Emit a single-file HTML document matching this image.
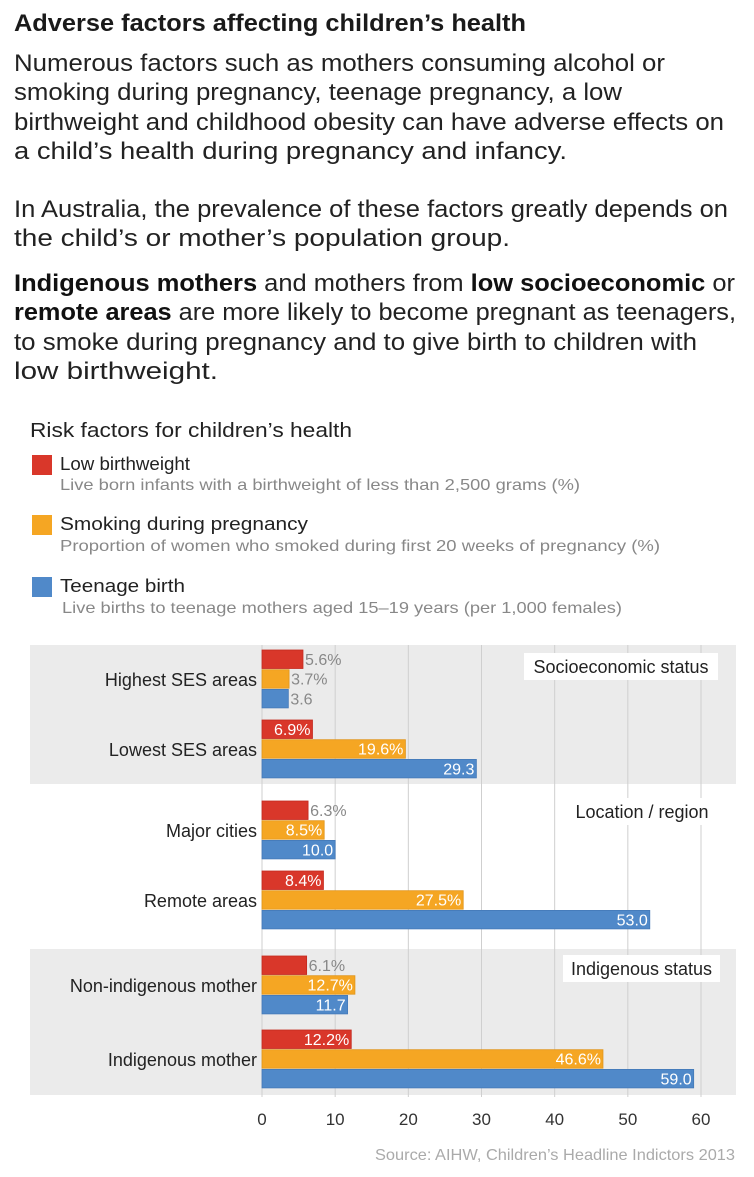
<!DOCTYPE html>
<html><head><meta charset="utf-8">
<style>
html,body{margin:0;padding:0;background:#fff;}
svg{display:block;font-family:"Liberation Sans",Arial,sans-serif;}
</style></head>
<body>
<svg id="chart" width="754" height="1177" viewBox="0 0 754 1177" xmlns="http://www.w3.org/2000/svg">
<g fill="#1a1a1a">
<text x="14" y="31" font-size="24" font-weight="bold" textLength="512" lengthAdjust="spacingAndGlyphs">Adverse factors affecting children’s health</text>
<g font-size="24" fill="#222">
<text x="14" y="71" textLength="651" lengthAdjust="spacingAndGlyphs">Numerous factors such as mothers consuming alcohol or</text>
<text x="14" y="100" textLength="608" lengthAdjust="spacingAndGlyphs">smoking during pregnancy, teenage pregnancy, a low</text>
<text x="14" y="130" textLength="710" lengthAdjust="spacingAndGlyphs">birthweight and childhood obesity can have adverse effects on</text>
<text x="14" y="159" textLength="553" lengthAdjust="spacingAndGlyphs">a child’s health during pregnancy and infancy.</text>
<text x="14" y="217" textLength="714" lengthAdjust="spacingAndGlyphs">In Australia, the prevalence of these factors greatly depends on</text>
<text x="14" y="246" textLength="496" lengthAdjust="spacingAndGlyphs">the child’s or mother’s population group.</text>
<text x="14" y="291" textLength="721" lengthAdjust="spacingAndGlyphs"><tspan font-weight="bold" fill="#111">Indigenous mothers</tspan> and mothers from <tspan font-weight="bold" fill="#111">low socioeconomic</tspan> or</text>
<text x="14" y="320" textLength="722" lengthAdjust="spacingAndGlyphs"><tspan font-weight="bold" fill="#111">remote areas</tspan> are more likely to become pregnant as teenagers,</text>
<text x="14" y="350" textLength="683" lengthAdjust="spacingAndGlyphs">to smoke during pregnancy and to give birth to children with</text>
<text x="14" y="379" textLength="204" lengthAdjust="spacingAndGlyphs">low birthweight.</text>
</g>
</g>
<g>
<text x="30" y="437" font-size="20" fill="#222" textLength="322" lengthAdjust="spacingAndGlyphs">Risk factors for children’s health</text>
<g>
<rect x="32" y="455" width="20" height="20" fill="#d9372a"/>
<text x="60" y="470" font-size="18" fill="#222" textLength="130" lengthAdjust="spacingAndGlyphs">Low birthweight</text>
<text x="60" y="490" font-size="16" fill="#888" textLength="520" lengthAdjust="spacingAndGlyphs">Live born infants with a birthweight of less than 2,500 grams (%)</text>
</g>
<g>
<rect x="32" y="515" width="20" height="20" fill="#f5a623"/>
<text x="60" y="530" font-size="18" fill="#222" textLength="248" lengthAdjust="spacingAndGlyphs">Smoking during pregnancy</text>
<text x="60" y="551" font-size="16" fill="#888" textLength="600" lengthAdjust="spacingAndGlyphs">Proportion of women who smoked during first 20 weeks of pregnancy (%)</text>
</g>
<g>
<rect x="32" y="577" width="20" height="20" fill="#5089c9"/>
<text x="60" y="592" font-size="18" fill="#222" textLength="125" lengthAdjust="spacingAndGlyphs">Teenage birth</text>
<text x="62" y="613" font-size="16" fill="#888" textLength="560" lengthAdjust="spacingAndGlyphs">Live births to teenage mothers aged 15–19 years (per 1,000 females)</text>
</g>
</g>
<g id="plot"></g>
<text x="735" y="1160" font-size="16" fill="#aaa" text-anchor="end" textLength="360" lengthAdjust="spacingAndGlyphs">Source: AIHW, Children’s Headline Indictors 2013</text>
</svg>
<script>
const categories = ["Highest SES areas","Lowest SES areas","Major cities","Remote areas","Non-indigenous mother","Indigenous mother"];
const lowBirthweight = [5.6, 6.9, 6.3, 8.4, 6.1, 12.2];
const smoking = [3.7, 19.6, 8.5, 27.5, 12.7, 46.6];
const teenageBirth = [3.6, 29.3, 10.0, 53.0, 11.7, 59.0];
const xTicks = [0, 10, 20, 30, 40, 50, 60];
const groupNames = ["Socioeconomic status", "Location / region", "Indigenous status"];

const NS = "http://www.w3.org/2000/svg";
const plot = document.getElementById("plot");
const x0 = 262, x1 = 701, xMax = 60;
function xs(v){ return x0 + (x1 - x0) * v / xMax; }
const groupTops = [650, 720, 801, 871, 956, 1030];
const bands = [[645,784,true,524,194,653],[798,935,false,566,152,798],[949,1095,true,563,157,955]];
function mk(tag, attrs){ const e = document.createElementNS(NS, tag); for (const k in attrs) e.setAttribute(k, attrs[k]); return e; }

bands.forEach((b, i) => {
  if (b[2]) {
    const r = mk("rect", {x:30, y:b[0], width:706, height:b[1]-b[0], fill:"#ebebeb"});
    
    
    plot.appendChild(r);
  }
});
xTicks.forEach(t => {
  const l = mk("line", {x1:xs(t), x2:xs(t), y1:645, y2:1097, stroke:"#cfcfcf", "stroke-width":1});
  
  
  plot.appendChild(l);
  const tx = mk("text", {x:xs(t), y:1125, "font-size":17, fill:"#333", "text-anchor":"middle"});
  
  
  tx.textContent = t;
  plot.appendChild(tx);
});
bands.forEach((b, i) => {
  const r = mk("rect", {x:b[3], y:b[5], width:b[4], height:27, fill:"#fff"});
  
  
  plot.appendChild(r);
  const t = mk("text", {x:b[3]+b[4]/2, y:b[5]+20, "font-size":18, fill:"#222", "text-anchor":"middle"});
  
  
  t.textContent = groupNames[i];
  plot.appendChild(t);
});
const series = [
  {vals: lowBirthweight, color:"#d9372a", stroke:"#c42a1f", pct:true, name:"low-birthweight"},
  {vals: smoking, color:"#f5a623", stroke:"#e0951a", pct:true, name:"smoking"},
  {vals: teenageBirth, color:"#5089c9", stroke:"#4479b8", pct:false, name:"teenage-birth"}
];
categories.forEach((c, i) => {
  const top = groupTops[i];
  const lab = mk("text", {x:257, y:top+36, "font-size":18, fill:"#222", "text-anchor":"end"});
  
  
  lab.textContent = c;
  plot.appendChild(lab);
  series.forEach((s, j) => {
    const v = s.vals[i];
    const y = top + j * 19.7;
    const w = xs(v) - x0;
    const r = mk("rect", {x:x0, y:y, width:w, height:18.5, fill:s.color, stroke:s.stroke, "stroke-width":0.8});
    
    
    plot.appendChild(r);
    const txt = v.toFixed(1) + (s.pct ? "%" : "");
    const inside = w > 48;
    const t = mk("text", {x: inside ? xs(v) - 2 : xs(v) + 2, y: y + 15, "font-size":16, fill: inside ? "#fff" : "#888", "text-anchor": inside ? "end" : "start"});
    
    
    t.textContent = txt;
    plot.appendChild(t);
  });
});
</script>
</body></html>
